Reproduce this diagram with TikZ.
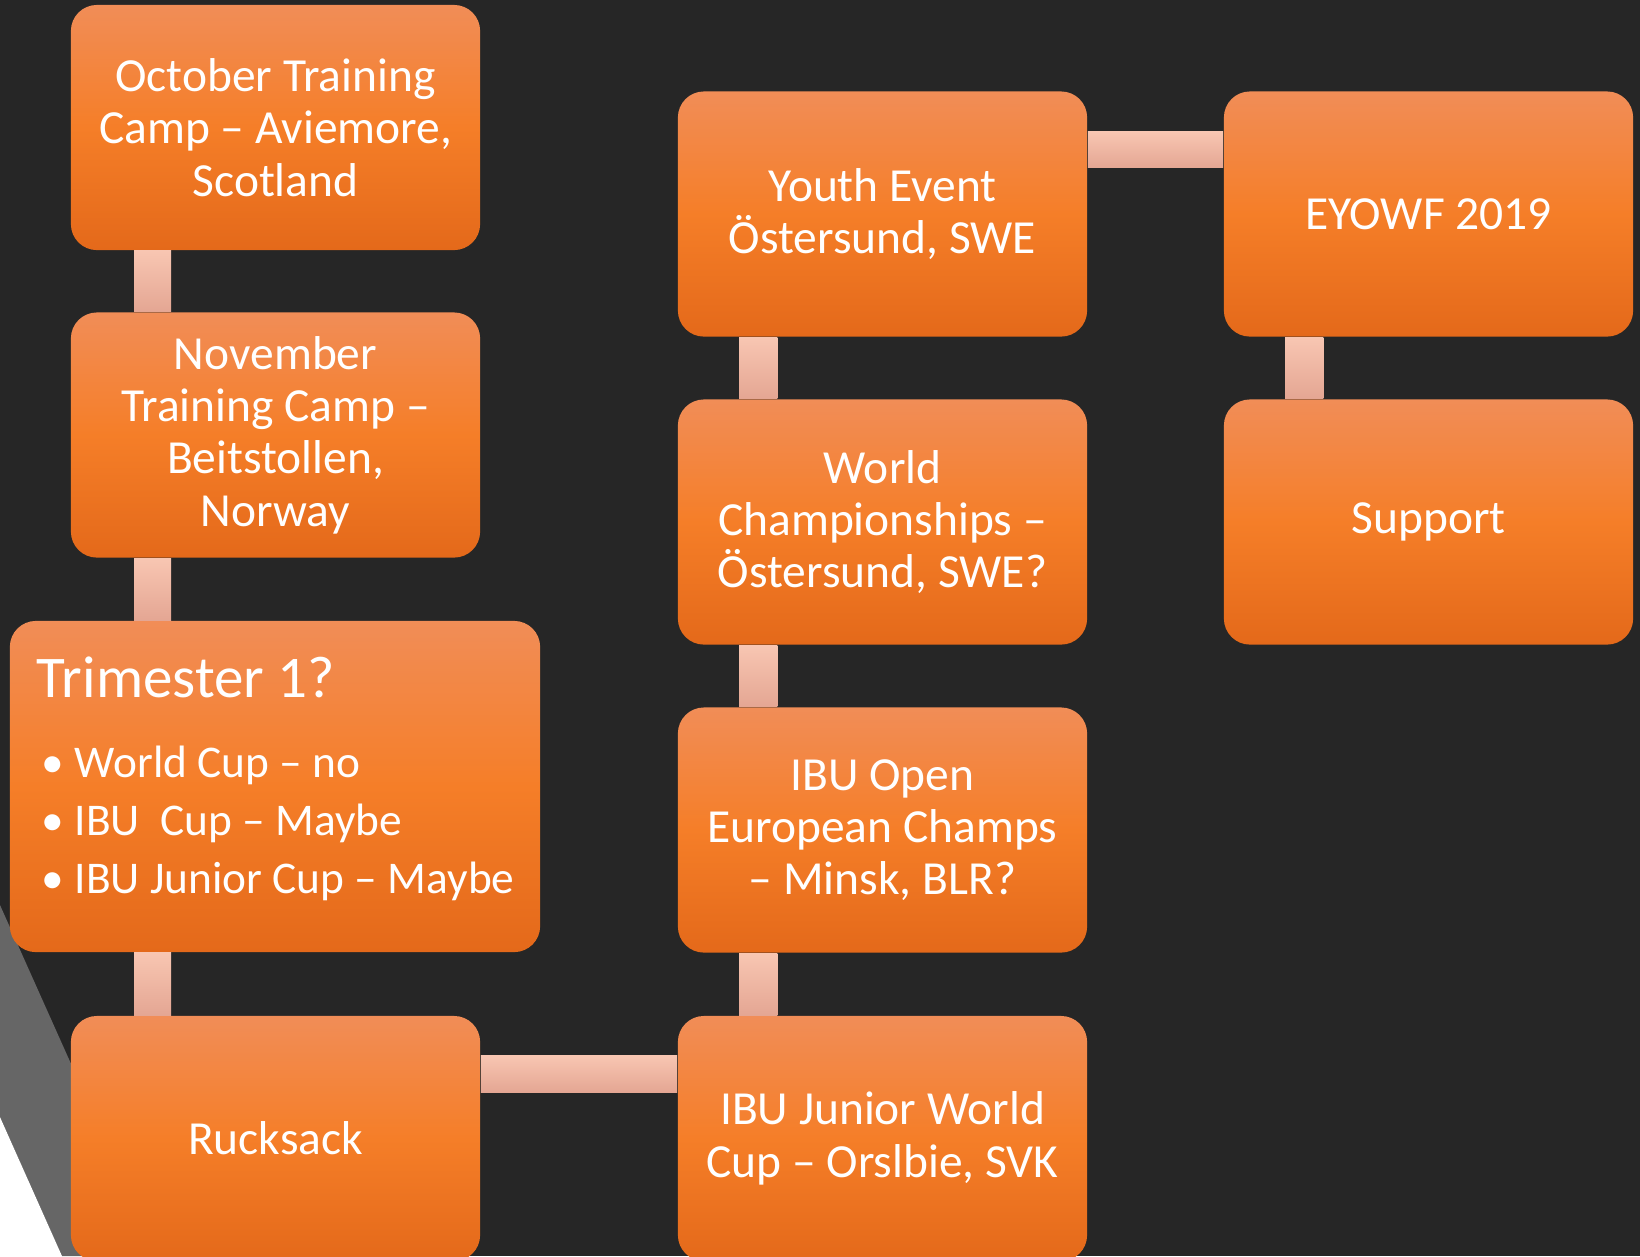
\documentclass[tikz,border=0pt]{standalone}
\usepackage{fontspec}
\setmainfont{Carlito}
\usepackage{tikz}

\definecolor{bgdark}{HTML}{262626}
\definecolor{boxtop}{HTML}{F18D57}
\definecolor{boxmid}{HTML}{F57E28}
\definecolor{boxbot}{HTML}{E4691A}
\definecolor{bartop}{HTML}{F8C6B2}
\definecolor{barbot}{HTML}{E4A693}
\definecolor{stripe}{HTML}{666666}

\begin{document}
\begin{tikzpicture}[x=0.01cm, y=-0.01cm,
		box_style/.style={rectangle, rounded corners=0.26cm, minimum width=4.09cm, minimum height=2.45cm, inner sep=0pt,
			top color=boxtop, bottom color=boxbot, middle color=boxmid, text=white, align=center,
			font=\fontsize{13.5pt}{14.9pt}\selectfont},
		list_style/.style={anchor=base west, inner sep=0pt, text=white, font=\fontsize{12.9pt}{15pt}\selectfont},
		bar_style/.style={top color=bartop, bottom color=barbot}]
		\fill[bgdark] (0,0) rectangle (1640,1256);
		\useasboundingbox (0,0) rectangle (1640,1256);
		\fill[stripe] (0,905) -- (157,1256) -- (62,1256) -- (0,1117) -- cycle;
		\fill[white] (0,1117) -- (62,1256) -- (0,1256) -- cycle;
		\node[box_style] (oct) at (275.5,127.5) {October Training\\Camp – Aviemore,\\Scotland};
		\node[box_style] (nov) at (275.5,435) {November\\Training Camp –\\Beitstollen,\\Norway};
		\node[box_style, minimum width=5.3cm, minimum height=3.31cm] (tri) at (275,786.5) {};
		\node[list_style, font=\fontsize{16.8pt}{20pt}\selectfont] (tri_title) at ([xshift=0.27cm, yshift=-0.77cm]tri.north west) {Trimester 1?};
		\node[list_style] (tri_b1) at ([xshift=0.32cm, yshift=-1.57cm]tri.north west) {\makebox[0.33cm][l]{•}World Cup – no};
		\node[list_style] (tri_b2) at ([xshift=0.32cm, yshift=-2.15cm]tri.north west) {\makebox[0.33cm][l]{•}IBU~~Cup – Maybe};
		\node[list_style] (tri_b3) at ([xshift=0.32cm, yshift=-2.73cm]tri.north west) {\makebox[0.33cm][l]{•}IBU Junior Cup – Maybe};
		\node[box_style] (ruck) at (275.5,1138.5) {Rucksack};
		\node[box_style] (junior) at (882.5,1138.5) {IBU Junior World\\Cup – Orslbie, SVK};
		\node[box_style] (open) at (882.5,830) {IBU Open\\European Champs\\– Minsk, BLR?};
		\node[box_style] (world) at (882.5,522) {World\\Championships –\\Östersund, SWE?};
		\node[box_style] (youth) at (882.5,214) {Youth Event\\Östersund, SWE};
		\node[box_style] (eyowf) at (1428.5,214) {EYOWF 2019};
		\node[box_style] (support) at (1428.5,522) {Support};
		% connectors
		\path[bar_style] ([xshift=0.64cm]oct.south west) rectangle ([xshift=1.01cm]nov.north west);
		\path[bar_style] ([xshift=0.64cm]nov.south west) rectangle ([xshift=1.62cm]tri.north west);
		\path[bar_style] ([xshift=1.25cm]tri.south west) rectangle ([xshift=1.01cm]ruck.north west);
		\path[bar_style] ([yshift=-0.40cm]ruck.north east) rectangle ([yshift=-0.77cm]junior.north west);
		\path[bar_style] ([xshift=0.62cm]junior.north west) rectangle ([xshift=1.00cm]open.south west);
		\path[bar_style] ([xshift=0.62cm]open.north west) rectangle ([xshift=1.00cm]world.south west);
		\path[bar_style] ([xshift=0.62cm]world.north west) rectangle ([xshift=1.00cm]youth.south west);
		\path[bar_style] ([yshift=-0.41cm]youth.north east) rectangle ([yshift=-0.77cm]eyowf.north west);
		\path[bar_style] ([xshift=0.62cm]eyowf.south west) rectangle ([xshift=1.00cm]support.north west);
\end{tikzpicture}
\end{document}
